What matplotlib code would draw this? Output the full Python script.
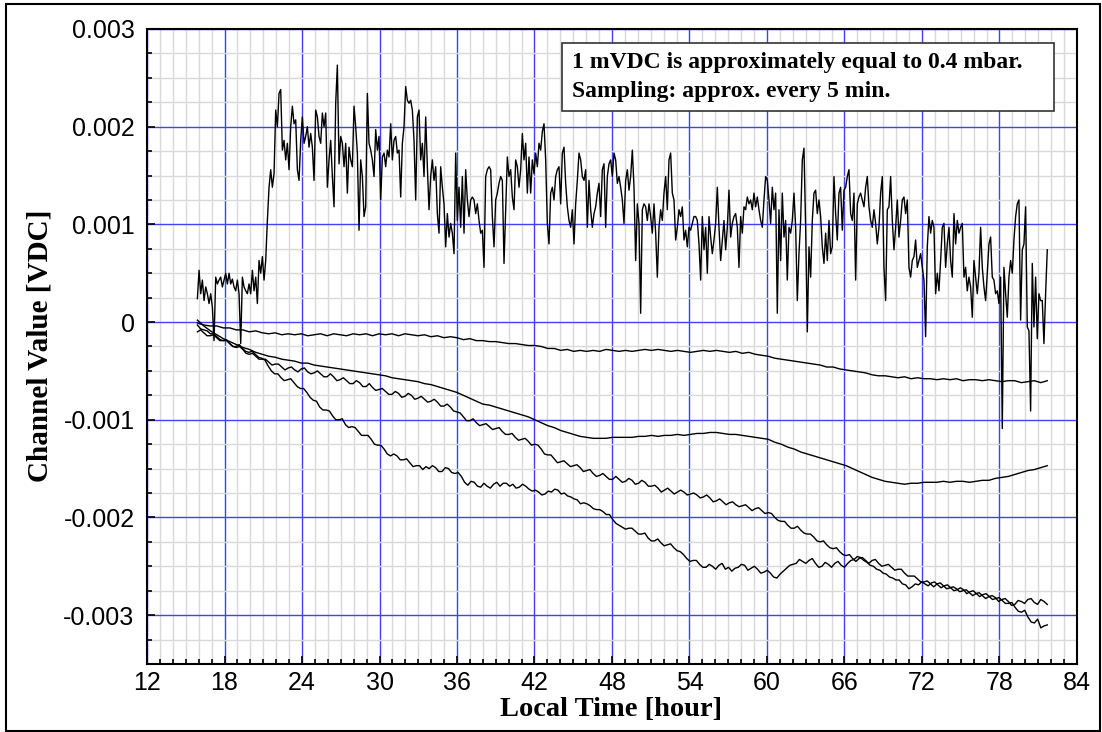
import numpy as np
import matplotlib.pyplot as plt
from matplotlib.ticker import MultipleLocator, FuncFormatter
from matplotlib.patches import Rectangle

# recording window [hour]
T_START, T_END = 15.9, 81.7

# channel values in mVDC
top_mv = [
    0.24, 0.53, 0.29, 0.43, 0.22, 0.36, 0.29, 0.19, 0.29, 0.15, -0.19, 0.46, 0.39, 0.43, 0.46, 0.36,
    0.43, 0.50, 0.39, 0.50, 0.39, 0.44, 0.36, 0.32, 0.43, 0.29, -0.22, 0.46, 0.36, 0.32, 0.29, 0.39,
    0.29, 0.53, 0.32, 0.46, 0.19, 0.63, 0.50, 0.67, 0.43, 0.63, 1.04, 1.38, 1.56, 1.38, 1.52, 2.17,
    2.00, 2.34, 2.38, 1.76, 1.86, 1.66, 1.83, 1.56, 2.00, 2.21, 2.03, 2.07, 1.56, 1.45, 1.86, 2.10,
    1.83, 1.90, 2.00, 1.79, 1.93, 1.79, 1.45, 2.17, 2.10, 1.90, 1.83, 2.14, 2.00, 2.14, 1.38, 1.66,
    1.86, 1.49, 1.18, 2.24, 2.63, 1.62, 1.90, 1.83, 1.59, 1.83, 1.32, 1.79, 1.66, 1.59, 2.21, 2.00,
    1.73, 0.94, 1.66, 1.49, 1.08, 1.18, 2.34, 1.83, 1.76, 1.66, 1.49, 1.97, 1.76, 1.90, 1.25, 1.69,
    1.73, 1.59, 1.76, 1.69, 2.03, 1.66, 1.86, 1.90, 1.73, 1.76, 1.28, 1.83, 2.00, 2.41, 2.27, 2.24,
    2.27, 2.17, 1.86, 1.25, 2.10, 2.17, 1.66, 1.83, 1.49, 2.10, 1.59, 1.15, 1.49, 1.66, 1.45, 1.59,
    1.11, 0.91, 1.59, 1.38, 1.21, 0.77, 1.11, 0.87, 1.01, 0.91, 0.70, 1.73, 1.04, 1.38, 0.97, 1.49,
    0.91, 1.56, 1.25, 1.08, 1.25, 1.28, 1.25, 1.11, 1.21, 1.04, 0.91, 0.94, 0.56, 1.49, 1.56, 1.59,
    1.56, 1.08, 0.77, 1.25, 1.32, 1.42, 1.49, 1.45, 0.60, 1.15, 1.69, 1.49, 1.56, 1.28, 1.15, 1.66,
    1.59, 1.38, 1.56, 1.93, 1.66, 1.83, 1.32, 1.69, 1.32, 1.66, 1.52, 1.73, 1.59, 1.83, 1.76, 1.95,
    2.03, 1.66, 1.01, 0.80, 1.32, 1.38, 1.25, 1.49, 1.56, 1.59, 1.21, 1.73, 1.79, 1.42, 1.18, 1.04,
    0.97, 1.15, 0.80, 1.21, 1.45, 1.73, 1.66, 1.49, 1.45, 1.56, 0.97, 1.45, 1.15, 0.97, 1.11, 1.18,
    1.32, 1.42, 1.08, 1.56, 1.62, 0.97, 1.49, 1.62, 1.66, 1.49, 1.73, 1.66, 1.42, 1.49, 1.38, 1.25,
    1.01, 1.45, 1.56, 1.35, 1.49, 1.76, 1.38, 0.63, 1.21, 1.01, 0.09, 1.15, 1.21, 1.18, 1.04, 1.21,
    1.08, 0.91, 1.21, 0.91, 0.46, 0.97, 1.15, 1.04, 1.32, 1.49, 1.15, 1.66, 1.73, 1.32, 1.25, 0.84,
    0.97, 1.15, 1.08, 1.18, 0.84, 0.94, 0.77, 0.97, 0.94, 1.01, 1.08, 1.08, 1.04, 0.80, 0.43, 1.08,
    0.74, 0.97, 0.50, 1.08, 0.87, 0.70, 0.84, 1.01, 1.38, 0.97, 0.63, 0.84, 1.04, 0.74, 0.97, 1.35,
    0.87, 1.01, 1.08, 1.11, 0.97, 0.56, 1.08, 0.91, 1.18, 1.15, 1.28, 1.21, 1.25, 1.15, 1.32, 1.18,
    1.28, 1.15, 1.04, 0.97, 1.25, 1.49, 1.45, 1.25, 1.01, 1.38, 1.15, 1.32, 0.09, 1.15,
    0.63, 1.32, 0.87, 1.04, 0.43, 0.97, 0.91, 1.04, 1.32, 0.97, 0.22, 0.70, 1.04, 1.66, 1.78, 0.97,
    -0.10, 0.77, 0.46, 1.04, 1.32, 1.35, 1.11, 1.25, 1.08, 0.77, 0.60, 0.91, 0.63, 1.04, 0.70, 0.77,
    1.49, 1.11, 0.84, 1.32, 1.38, 0.94, 1.35, 1.38, 1.49, 1.56, 1.11, 1.04, 1.32, 0.43, 1.21, 1.28,
    1.32, 1.25, 1.18, 1.38, 1.49, 1.18, 1.04, 0.97, 1.15, 1.01, 0.80, 0.97, 1.32, 1.49, 0.56, 0.22,
    1.15, 1.18, 1.49, 1.04, 0.74, 0.97, 1.25, 0.87, 1.04, 1.25, 1.28, 1.11, 1.25, 0.56, 0.46, 0.63,
    0.67, 0.84, 0.56, 0.63, 0.70, 0.56, 0.43, -0.15, 0.77, 1.08, 0.91, 1.04, 0.97, 0.29, 0.50, 0.32,
    0.63, 0.97, 1.01, 0.56, 0.80, 0.97, 0.63, 0.46, 1.11, 0.80, 1.04, 0.91, 0.97, 1.01, 0.46, 0.56,
    0.32, 0.46, 0.36, 0.05, 0.63, 0.46, 0.29, 0.50, 0.97, 0.56, 0.36, 0.22, 0.50, 0.80, 0.87, 0.46,
    0.43, 0.29, 0.32, 0.19, 0.46, -1.09, 0.56, 0.29, 0.05, 0.46, 0.63, 0.50, 0.84, 1.08, 1.21, 1.25,
    0.02, 0.74, 0.80, 1.18, -0.05, -0.09, -0.91, 0.60, -0.05, 0.46, -0.17, 0.29, 0.22, 0.22, -0.22,
    0.29, 0.74,
]

ch2_mv = [
    -0.01, -0.03, -0.04, -0.04, -0.06, -0.06, -0.08, -0.08, -0.10, -0.09, -0.11, -0.12, -0.11, -0.13,
    -0.12, -0.13, -0.12, -0.14, -0.13, -0.12, -0.14, -0.12, -0.13, -0.14, -0.12, -0.13, -0.12, -0.14,
    -0.12, -0.13, -0.12, -0.14, -0.12, -0.13, -0.14, -0.13, -0.15, -0.14, -0.16, -0.15, -0.16, -0.18,
    -0.17, -0.19, -0.19, -0.20, -0.20, -0.21, -0.22, -0.22, -0.23, -0.24, -0.24, -0.25, -0.27, -0.27,
    -0.29, -0.28, -0.30, -0.29, -0.30, -0.29, -0.30, -0.28, -0.29, -0.30, -0.29, -0.30, -0.29, -0.28,
    -0.29, -0.28, -0.29, -0.30, -0.29, -0.30, -0.31, -0.30, -0.29, -0.30, -0.29, -0.30, -0.31, -0.30,
    -0.32, -0.31, -0.33, -0.34, -0.35, -0.37, -0.38, -0.39, -0.40, -0.41, -0.42, -0.43, -0.44, -0.46,
    -0.46, -0.48, -0.49, -0.50, -0.51, -0.52, -0.54, -0.55, -0.55, -0.56, -0.57, -0.56, -0.58, -0.57,
    -0.58, -0.58, -0.59, -0.58, -0.59, -0.58, -0.60, -0.59, -0.59, -0.60, -0.59, -0.60, -0.61, -0.60,
    -0.60, -0.62, -0.61, -0.60, -0.62, -0.60,
]

ch3_mv = [
    0.02, -0.04, -0.09, -0.13, -0.17, -0.20, -0.23, -0.26, -0.28, -0.31, -0.33, -0.35, -0.36, -0.38,
    -0.39, -0.40, -0.42, -0.42, -0.44, -0.45, -0.46, -0.47, -0.48, -0.49, -0.50, -0.51, -0.52, -0.53,
    -0.54, -0.55, -0.57, -0.58, -0.59, -0.60, -0.61, -0.63, -0.64, -0.66, -0.68, -0.70, -0.72, -0.75,
    -0.78, -0.81, -0.84, -0.85, -0.87, -0.89, -0.91, -0.93, -0.95, -0.97, -1.00, -1.03, -1.06, -1.08,
    -1.11, -1.13, -1.15, -1.17, -1.18, -1.19, -1.19, -1.19, -1.18, -1.18, -1.18, -1.18, -1.17, -1.17,
    -1.16, -1.17, -1.16, -1.16, -1.15, -1.16, -1.15, -1.14, -1.14, -1.13, -1.13, -1.14, -1.15, -1.15,
    -1.16, -1.17, -1.18, -1.19, -1.20, -1.23, -1.25, -1.28, -1.30, -1.33, -1.35, -1.37, -1.39, -1.41,
    -1.43, -1.45, -1.47, -1.50, -1.53, -1.56, -1.59, -1.61, -1.63, -1.64, -1.65, -1.66, -1.65, -1.65,
    -1.64, -1.64, -1.64, -1.63, -1.64, -1.63, -1.63, -1.64, -1.63, -1.62, -1.62, -1.60, -1.59, -1.58,
    -1.56, -1.54, -1.52, -1.51, -1.49, -1.47,
]

ch4_mv = [
    -0.03, -0.07, -0.08, -0.09, -0.12, -0.12, -0.15, -0.18, -0.19, -0.19, -0.22, -0.25, -0.26, -0.25,
    -0.28, -0.32, -0.33, -0.32, -0.35, -0.38, -0.38, -0.38, -0.41, -0.44, -0.43, -0.43, -0.46, -0.49,
    -0.47, -0.46, -0.49, -0.51, -0.48, -0.47, -0.51, -0.53, -0.52, -0.50, -0.53, -0.56, -0.56, -0.53,
    -0.56, -0.60, -0.59, -0.57, -0.60, -0.63, -0.63, -0.60, -0.62, -0.66, -0.66, -0.63, -0.67, -0.70,
    -0.69, -0.68, -0.71, -0.74, -0.74, -0.71, -0.73, -0.77, -0.76, -0.73, -0.75, -0.79, -0.78, -0.76,
    -0.79, -0.82, -0.81, -0.79, -0.82, -0.86, -0.86, -0.84, -0.87, -0.91, -0.92, -0.93, -0.97, -1.01,
    -1.01, -0.99, -1.03, -1.06, -1.05, -1.04, -1.07, -1.10, -1.09, -1.08, -1.12, -1.15, -1.15, -1.14,
    -1.18, -1.21, -1.20, -1.19, -1.22, -1.26, -1.25, -1.26, -1.30, -1.35, -1.36, -1.36, -1.40, -1.44,
    -1.43, -1.42, -1.45, -1.48, -1.47, -1.46, -1.49, -1.53, -1.52, -1.51, -1.55, -1.58, -1.57, -1.55,
    -1.58, -1.61, -1.61, -1.58, -1.61, -1.64, -1.63, -1.60, -1.62, -1.66, -1.65, -1.62, -1.64, -1.68,
    -1.68, -1.67, -1.70, -1.74, -1.72, -1.70, -1.73, -1.76, -1.74, -1.72, -1.74, -1.77, -1.76, -1.75,
    -1.77, -1.80, -1.79, -1.77, -1.80, -1.84, -1.83, -1.81, -1.84, -1.87, -1.85, -1.84, -1.87, -1.89,
    -1.88, -1.87, -1.90, -1.93, -1.91, -1.90, -1.93, -1.96, -1.95, -1.96, -2.00, -2.03, -2.04, -2.04,
    -2.08, -2.11, -2.11, -2.09, -2.13, -2.16, -2.17, -2.17, -2.20, -2.24, -2.25, -2.24, -2.28, -2.31,
    -2.32, -2.31, -2.35, -2.38, -2.39, -2.38, -2.42, -2.45, -2.42, -2.41, -2.44, -2.47, -2.44, -2.43,
    -2.47, -2.50, -2.49, -2.48, -2.51, -2.54, -2.53, -2.53, -2.57, -2.60, -2.60, -2.60, -2.63, -2.66,
    -2.66, -2.65, -2.68, -2.71, -2.68, -2.67, -2.70, -2.73, -2.72, -2.71, -2.73, -2.76, -2.75, -2.74,
    -2.77, -2.80, -2.78, -2.77, -2.80, -2.83, -2.81, -2.80, -2.82, -2.86, -2.84, -2.83, -2.86, -2.90,
    -2.89, -2.85, -2.86, -2.88, -2.84, -2.83, -2.87, -2.89, -2.84, -2.86, -2.89,
]

ch5_mv = [
    -0.10, -0.08, -0.11, -0.14, -0.14, -0.13, -0.16, -0.19, -0.19, -0.18, -0.22, -0.25, -0.25, -0.23,
    -0.27, -0.30, -0.31, -0.30, -0.33, -0.36, -0.37, -0.39, -0.45, -0.50, -0.53, -0.53, -0.57, -0.60,
    -0.59, -0.58, -0.62, -0.66, -0.68, -0.68, -0.72, -0.77, -0.80, -0.81, -0.87, -0.90, -0.90, -0.91,
    -0.96, -1.00, -1.00, -0.99, -1.05, -1.08, -1.07, -1.08, -1.12, -1.16, -1.16, -1.16, -1.20, -1.25,
    -1.26, -1.26, -1.30, -1.35, -1.37, -1.35, -1.37, -1.41, -1.41, -1.40, -1.44, -1.48, -1.47, -1.47,
    -1.51, -1.48, -1.50, -1.47, -1.49, -1.53, -1.53, -1.49, -1.50, -1.54, -1.55, -1.54, -1.58, -1.64,
    -1.67, -1.63, -1.64, -1.68, -1.69, -1.65, -1.68, -1.70, -1.66, -1.64, -1.68, -1.65, -1.65, -1.68,
    -1.66, -1.70, -1.69, -1.66, -1.68, -1.71, -1.73, -1.72, -1.74, -1.77, -1.76, -1.73, -1.74, -1.71,
    -1.72, -1.76, -1.75, -1.78, -1.79, -1.81, -1.82, -1.86, -1.85, -1.86, -1.88, -1.91, -1.92, -1.92,
    -1.94, -1.97, -1.97, -2.02, -2.06, -2.08, -2.10, -2.12, -2.11, -2.11, -2.14, -2.17, -2.17, -2.16,
    -2.21, -2.24, -2.24, -2.22, -2.26, -2.29, -2.28, -2.27, -2.31, -2.34, -2.35, -2.38, -2.42, -2.45,
    -2.44, -2.44, -2.48, -2.51, -2.51, -2.48, -2.50, -2.53, -2.49, -2.47, -2.53, -2.51, -2.55, -2.52,
    -2.51, -2.48, -2.49, -2.54, -2.52, -2.50, -2.53, -2.57, -2.56, -2.54, -2.57, -2.61, -2.62, -2.58,
    -2.55, -2.52, -2.49, -2.48, -2.47, -2.43, -2.45, -2.47, -2.44, -2.42, -2.47, -2.51, -2.50, -2.46,
    -2.48, -2.51, -2.47, -2.45, -2.49, -2.51, -2.47, -2.44, -2.43, -2.40, -2.41, -2.44, -2.46, -2.49,
    -2.50, -2.53, -2.54, -2.57, -2.58, -2.61, -2.62, -2.64, -2.64, -2.68, -2.69, -2.73, -2.71, -2.68,
    -2.69, -2.66, -2.68, -2.70, -2.67, -2.66, -2.69, -2.72, -2.70, -2.69, -2.72, -2.75, -2.74, -2.72,
    -2.74, -2.78, -2.76, -2.75, -2.78, -2.81, -2.79, -2.78, -2.81, -2.84, -2.83, -2.82, -2.85, -2.88,
    -2.88, -2.87, -2.92, -2.96, -2.97, -2.95, -3.02, -3.07, -3.08, -3.04, -3.13, -3.11, -3.10,
]

serif = {'family': 'Liberation Serif', 'weight': 'bold'}
plt.rcParams['font.family'] = 'Liberation Sans'

fig = plt.figure(figsize=(11.02, 7.32), dpi=100)
ax = fig.add_axes([0.1334, 0.0929, 0.8439, 0.8675])

for series in [top_mv, ch2_mv, ch3_mv, ch4_mv, ch5_mv]:
    t = np.linspace(T_START, T_END, len(series))
    ax.plot(t, np.array(series) * 1e-3, color='black', lw=1.0, zorder=3)

ax.set_xlim(12, 84)
ax.set_ylim(-0.0035, 0.003)
ax.xaxis.set_major_locator(MultipleLocator(6))
ax.xaxis.set_minor_locator(MultipleLocator(1))
ax.yaxis.set_major_locator(MultipleLocator(0.001))
ax.yaxis.set_minor_locator(MultipleLocator(0.00025))
ax.yaxis.set_major_formatter(FuncFormatter(lambda v, _: '0' if abs(v) < 1e-9 else f'{v:.3f}'))

ax.set_axisbelow(True)
ax.grid(which='minor', color='#d9d9d9', lw=1.0)
ax.grid(which='major', color='#4040ff', lw=1.0)
ax.tick_params(which='both', direction='in', top=False, right=False, width=1.2)
ax.tick_params(which='major', length=6, labelsize=18)
ax.tick_params(axis='y', which='major', pad=9)
ax.tick_params(axis='x', which='major', pad=5)
ax.tick_params(which='minor', length=3.5)
for sp in ax.spines.values():
    sp.set_linewidth(1.5)

# note box
ax.add_patch(Rectangle((0.4462, 0.871), 0.529, 0.107, transform=ax.transAxes,
                       facecolor='white', edgecolor='#333333', lw=1.2, zorder=5))
ax.text(0.457, 0.9381, '1 mVDC is approximately equal to 0.4 mbar.', transform=ax.transAxes,
        fontdict=serif, fontsize=17, va='baseline', zorder=6)
ax.text(0.457, 0.8934, 'Sampling: approx. every 5 min.', transform=ax.transAxes,
        fontdict=serif, fontsize=17, va='baseline', zorder=6)

fig.text(611.5 / 1102, 1 - 710 / 732, 'Local Time [hour]', fontdict=serif, fontsize=20.5,
         ha='center', va='center')
fig.text(40 / 1102, 1 - 346 / 732, 'Channel Value [VDC]', fontdict=serif, fontsize=21,
         ha='center', va='center', rotation=90)

# frame around the whole picture
fig.add_artist(Rectangle((6 / 1102, 1 / 732), 1094 / 1102, 727 / 732, transform=fig.transFigure,
                         fill=False, edgecolor='black', lw=1.5))

fig.savefig('out.png', dpi=100)
